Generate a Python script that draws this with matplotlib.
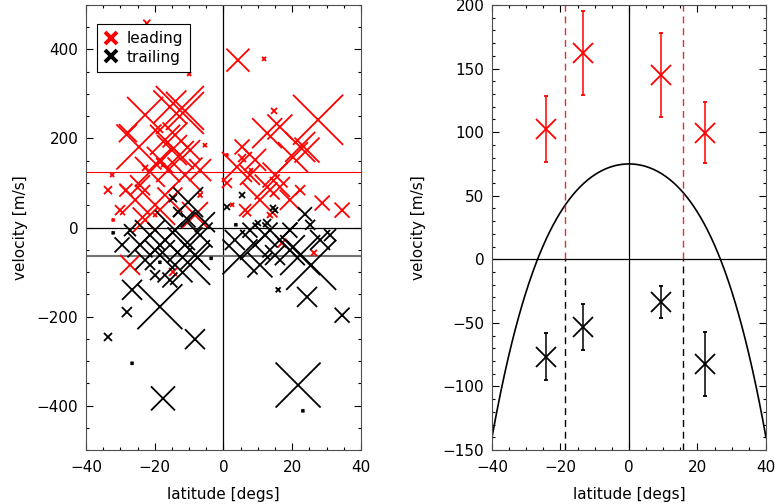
"""Leading vs trailing velocities against latitude: scatter and binned means."""

import matplotlib

matplotlib.use("Agg")
import matplotlib.pyplot as plt
import numpy as np
from matplotlib.lines import Line2D
from matplotlib.ticker import MultipleLocator

# ---- left panel: individual features (lat [deg], velocity [m/s], marker size [px]) ----
lead_lat = [-22.3, -10.0, -27.8, -12.7, -22.8, -15.6, -11.2, -24.6, -17.0, -14.1,
            -15.0, -12.7, -9.7, -18.5, -21.4, -16.1, -11.2, -6.8, -24.3, -28.4,
            -33.6, -25.7, -19.9, -15.6, -8.3, -22.8, -30.1, -27.2, -14.7, -32.4,
            -5.4, -19.9, -17.6, -22.8, -6.8, -32.1,
            4.2, 11.8, 27.5, 12.7, 16.4, 22.3, 24.3, 20.2, 3.9, 5.4,
            9.2, 12.7, 10.6, 16.4, 19.3, 7.7, 15.0, 28.7, 34.5, 1.0,
            5.4, 14.7, 17.0, 26.3, 22.3, 6.3, 13.5, 1.0, 8.0, 2.5]
lead_vel = [459, 345, 212, 264, 253, 271, 262, 181, 197, 208,
            174, 163, 174, 152, 125, 129, 118, 129, 95, 84,
            84, 62, 51, 62, 28, 17, 39, -84, -100, 118,
            185, 28, 140, 134, 73, 17,
            376, 379, 242, 212, 226, 181, 174, 158, 136, 181,
            152, 91, 62, 91, 62, 118, 118, 55, 39, 100,
            156, 262, -35, -57, 84, 39, 28, 163, 129, 51]
lead_size = [7, 4, 18, 48, 36, 33, 38, 45, 30, 25,
             30, 28, 20, 26, 30, 24, 35, 22, 20, 13,
             8, 30, 40, 25, 26, 25, 10, 20, 8, 4,
             4, 4, 4, 6, 5, 3,
             23, 4, 50, 30, 25, 30, 25, 30, 30, 15,
             22, 25, 35, 20, 20, 20, 25, 15, 15, 10,
             8, 6, 9, 6, 10, 12, 6, 3, 4, 4]

trail_lat = [-18.5, -8.3, -17.6, -28.1, -33.6, -26.6, -26.6, -24.3, -21.4, -17.0,
             -14.1, -11.2, -8.3, -18.5, -22.8, -14.1, -9.7, -6.8, -10.3, -13.2,
             -27.2, -29.5, -5.4, -15.6, -19.9, -14.7, -10.3, -32.1, -18.5, -3.6,
             21.7, 23.1, 34.5, 24.3, 15.9, 14.4, 10.0, 12.7, 23.7, 5.4,
             1.0, 15.0, 4.8, 9.2, 12.1, 16.4, 19.3, 22.3, 25.5, 10.6,
             15.0, 7.7, 3.3, 28.1, 31.0, 19.3, 25.2, 3.6]
trail_vel = [-178, -251, -384, -190, -246, -305, -140, -39, -17, -28,
             -6, -39, -62, -62, -73, -84, -84, -17, 17, 35,
             -6, -39, 12, -118, -107, 66, 57, -12, -78, -69,
             -354, -412, -197, -156, -140, 44, 10, 10, 30, 73,
             46, 39, -66, -39, -17, -28, -51, -62, -84, -84,
             -62, -6, -28, -28, -17, -6, 6, 6]
trail_size = [45, 20, 24, 10, 8, 3, 20, 25, 30, 35,
              40, 35, 30, 30, 20, 35, 40, 25, 15, 10,
              12, 15, 20, 15, 10, 8, 30, 3, 3, 3,
              45, 3, 15, 20, 5, 6, 6, 8, 14, 6,
              6, 6, 35, 30, 25, 35, 30, 40, 50, 25,
              20, 15, 20, 20, 12, 15, 10, 3]

lead_mean = 125
trail_mean = -63

# ---- right panel: binned means ----
bin_lat = [-24.2, -13.3, 9.4, 22.2]
lead_bin = [102.6, 162.0, 145.0, 99.5]
lead_err = [25.7, 33.0, 33.0, 24.0]
trail_bin = [-76.8, -53.4, -33.4, -82.4]
trail_err = [18.5, 18.3, 12.5, 25.0]
bound_lat = [-18.6, 15.7]
# profile curve: v = c0 + c2*lat^2 + c4*lat^4
profile_coef = [75.0, -0.0818, -3.29e-5]


def px_to_s(size):
    return (np.asarray(size) * 0.72) ** 2


def style_axes(ax, xminor, ymajor, yminor, ylabelpad):
    ax.xaxis.set_major_locator(MultipleLocator(20))
    ax.xaxis.set_minor_locator(MultipleLocator(xminor))
    ax.yaxis.set_major_locator(MultipleLocator(ymajor))
    ax.yaxis.set_minor_locator(MultipleLocator(yminor))
    ax.tick_params(which="both", direction="in", top=True, right=True, labelsize=11)
    ax.tick_params(which="major", length=5, width=0.8)
    ax.tick_params(which="minor", length=2.5, width=0.8)
    ax.tick_params(axis="x", pad=7.5)
    ax.tick_params(axis="y", pad=5.5)
    for sp in ax.spines.values():
        sp.set_linewidth(0.8)
        sp.set_color("0.3")
    ax.set_xlabel("latitude [degs]", fontsize=11, labelpad=8)
    ax.set_ylabel("velocity [m/s]", fontsize=11, labelpad=ylabelpad)
    ax.axhline(0, color="black", lw=0.9, zorder=1)
    ax.axvline(0, color="black", lw=0.9, zorder=1)


fig = plt.figure(figsize=(7.76, 5.04), dpi=100)
ax1 = fig.add_axes([0.1108, 0.1071, 0.3544, 0.883])
ax2 = fig.add_axes([0.634, 0.1071, 0.3531, 0.883])

# left
ax1.scatter(lead_lat, lead_vel, s=px_to_s(lead_size), marker="x", color="red",
            linewidths=1.3, zorder=3)
ax1.scatter(trail_lat, trail_vel, s=px_to_s(trail_size), marker="x", color="black",
            linewidths=1.3, zorder=4)
ax1.axhline(lead_mean, color="red", lw=0.8, zorder=2)
ax1.axhline(trail_mean, color="0.45", lw=1.5, zorder=2)
ax1.set_xlim(-40, 40)
ax1.set_ylim(-500, 500)
style_axes(ax1, 5, 200, 50, 6)
handles = [Line2D([], [], ls="none", marker="x", color="red", ms=8, mew=2.8),
           Line2D([], [], ls="none", marker="x", color="black", ms=8, mew=2.8)]
leg = ax1.legend(handles, ["leading", "trailing"], loc="upper left", fontsize=11,
                 fancybox=False, framealpha=1, edgecolor="black", handlelength=1.0,
                 handletextpad=0.5, borderpad=0.45, labelspacing=0.25,
                 borderaxespad=0, bbox_to_anchor=(0.04, 0.957))
leg.get_frame().set_linewidth(0.8)

# right
xs = np.linspace(-40, 40, 400)
c0, c2, c4 = profile_coef
ax2.plot(xs, c0 + c2 * xs**2 + c4 * xs**4, color="black", lw=1.2, zorder=2)
for b in bound_lat:
    ax2.plot([b, b], [0, 200], color="#e03030", lw=1.0, ls=(0, (5, 3.5)), zorder=2)
    ax2.plot([b, b], [-150, 0], color="black", lw=1.0, ls=(0, (5, 3.5)), zorder=2)
ax2.errorbar(bin_lat, lead_bin, yerr=lead_err, fmt="x", color="red", ms=15, mew=1.3,
             elinewidth=1.1, capsize=1.5, capthick=1.1, zorder=3)
ax2.errorbar(bin_lat, trail_bin, yerr=trail_err, fmt="x", color="black", ms=15, mew=1.3,
             elinewidth=1.1, capsize=1.5, capthick=1.1, zorder=3)
ax2.set_xlim(-40, 40)
ax2.set_ylim(-150, 200)
style_axes(ax2, 5, 50, 10, 12)

fig.savefig("out.png", dpi=100)
plt.close(fig)
